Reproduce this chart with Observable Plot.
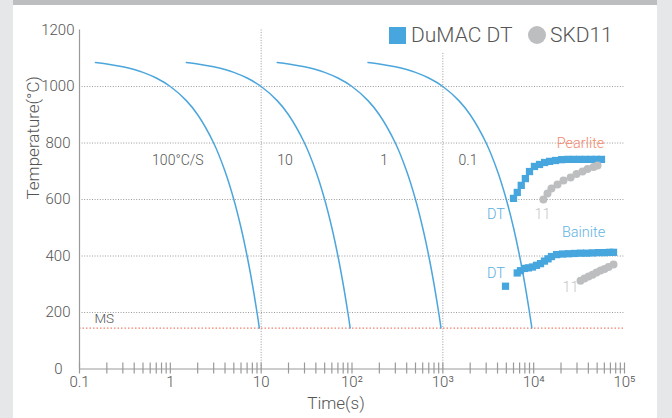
<!DOCTYPE html>
<html>
<head>
<meta charset="utf-8">
<script src="https://cdn.jsdelivr.net/npm/d3@7"></script>
<script src="https://cdn.jsdelivr.net/npm/@observablehq/plot@0.6"></script>
<style>
  html, body { margin: 0; padding: 0; background: #e6e7e8; }
  #wrap { position: relative; width: 672px; height: 418px; overflow: hidden; font-family: Roboto, "Liberation Sans", sans-serif; font-weight: 300; }
  #panel { position: absolute; left: 13px; top: 0; width: 644px; height: 418px; background: #fff; }
  #topbar { position: absolute; left: 13px; top: 0; width: 644px; height: 5px; background: #bcbec0; }
  #chart { position: absolute; left: 0; top: 0; }
  #legend { position: absolute; left: 381px; top: 22px; width: 242px; height: 30px; background: #fff; }
</style>
</head>
<body>
<div id="wrap">
  <div id="panel"></div>
  <div id="topbar"></div>
  <div id="chart"></div>
  <div id="legend"></div>
</div>
<script>
// ---------- data ----------
const yTicksWide = [1000, 1200];
const yTicksMid = [200, 400, 600, 800];
const yTicksZero = [0];
const yGrid = [200, 400, 600, 800, 1000];
const xGrid = [10, 1000];
const xTickValues = [0.1, 1, 10, 100, 1000, 10000, 100000];
const xTickLabels = ["0.1", "1", "10", "10²", "10³", "10⁴", "10⁵"];
const msTemp = 145;

// cooling curves (temperature)
const coolTemps = [1085, 1080, 1070, 1060, 1050, 1030, 1000, 950, 900, 800, 700, 600, 500, 400, 300, 200, 145];
const coolTime100 = [0.15, 0.2, 0.3, 0.4, 0.5, 0.7, 1, 1.5, 2, 3, 4, 5, 6, 7, 8, 9, 9.55];
const coolTime10 = [1.5, 2, 3, 4, 5, 7, 10, 15, 20, 30, 40, 50, 60, 70, 80, 90, 95.5];
const coolTime1 = [15, 20, 30, 40, 50, 70, 100, 150, 200, 300, 400, 500, 600, 700, 800, 900, 955];
const coolTime01 = [150, 200, 300, 400, 500, 700, 1000, 1500, 2000, 3000, 4000, 5000, 6000, 7000, 8000, 9000, 9550];
const rateNames = ["100°C/S", "10", "1", "0.1"];
const rateLabelTime = [0.63, 15, 205, 1490];
const rateLabelTemp = 738;

// DuMAC DT (squares) and SKD11 (circles)
const pearliteDT_t = [6000, 6600, 7300, 8100, 9000, 10200, 11600, 13200, 15000, 17400, 20300, 23600, 27500, 32000, 37000, 43000, 49000, 55800];
const pearliteDT_T = [604, 625, 650, 674, 699, 717, 724, 731, 735, 738, 741, 742, 742, 742, 742, 742, 742, 742];
const pearliteSKD_t = [12800, 14200, 15700, 18300, 21300, 25500, 29600, 34500, 39200, 45600, 50500];
const pearliteSKD_T = [600, 621, 639, 653, 667, 678, 690, 699, 708, 715, 720];
const bainiteDT_t = [4900, 6590, 7160, 7930, 8770, 9710, 10740, 11900, 13150, 14400, 15700, 17900, 20800, 24200, 28200, 32800, 38200, 44500, 51800, 60300, 68400, 75700];
const bainiteDT_T = [293, 340, 348, 356, 358, 361, 367, 373, 382, 390, 398, 405, 407, 408, 409, 410, 410, 411, 412, 412, 413, 413];
const bainiteSKD_t = [32800, 36300, 40200, 44500, 49200, 54500, 60300, 66700, 75700];
const bainiteSKD_T = [312, 320, 327, 334, 342, 349, 354, 361, 370];

// annotations
const annoText = ["Pearlite", "Bainite", "DT", "DT", "11", "11"];
const annoTime = [32800, 35400, 3850, 3840, 12500, 25500];
const annoTemp = [798, 484, 549, 337, 549, 290];
const annoColor = ["#f3876b", "#62b4e2", "#5aafe0", "#5aafe0", "#c4c4c6", "#c4c4c6"];
const msLabel = "MS", msLabelTime = 0.146, msLabelTemp = 179;

const legendNames = ["DuMAC DT", "SKD11"];
const colors = { dt: "#46a6dd", skd: "#bdbec0", curve: "#4ca6dc", ms: "#f2806a" };

// ---------- tables ----------
const curves = [];
[coolTime100, coolTime10, coolTime1, coolTime01].forEach((ts, k) =>
  ts.forEach((t, i) => curves.push({ t, T: coolTemps[i], rate: rateNames[k] })));
const toRows = (ts, Ts) => ts.map((t, i) => ({ t, T: Ts[i] }));
const dtRows = toRows(pearliteDT_t, pearliteDT_T).concat(toRows(bainiteDT_t, bainiteDT_T));
const skdRows = toRows(pearliteSKD_t, pearliteSKD_T).concat(toRows(bainiteSKD_t, bainiteSKD_T));
const rateRows = rateNames.map((n, i) => ({ n, t: rateLabelTime[i], T: rateLabelTemp }));
const annoRows = annoText.map((n, i) => ({ n, t: annoTime[i], T: annoTemp[i], c: annoColor[i] }));
const minorTicks = d3.scaleLog().domain([0.1, 1e5]).ticks();

const FONT = "Roboto, 'Liberation Sans', sans-serif";
const yAxisOpts = { tickSize: 0, label: null, fontSize: 15, fill: "#555", tickFormat: d => String(d) };
const plot = Plot.plot({
  width: 672, height: 418,
  marginLeft: 79, marginRight: 48, marginTop: 29.5, marginBottom: 49.5,
  style: { background: "transparent", fontFamily: FONT, fontSize: "15px", color: "#555", fontWeight: 300 },
  x: { type: "log", domain: [0.1, 1e5] },
  y: { domain: [0, 1200] },
  marks: [
    Plot.ruleY(yGrid, { stroke: "#8e8e8e", strokeDasharray: "1,1.6", strokeWidth: 0.9 }),
    Plot.ruleX(xGrid, { stroke: "#8e8e8e", strokeDasharray: "1,1.6", strokeWidth: 0.9 }),
    Plot.ruleY([msTemp], { stroke: colors.ms, strokeDasharray: "1.5,2", strokeWidth: 1.3 }),
    Plot.axisY({ ...yAxisOpts, ticks: yTicksWide, tickPadding: 5 }),
    Plot.axisY({ ...yAxisOpts, ticks: yTicksMid, tickPadding: 9 }),
    Plot.axisY({ ...yAxisOpts, ticks: yTicksZero, tickPadding: 17 }),
    Plot.axisX({ ticks: minorTicks, tickSize: 11, tickFormat: () => "", dy: -6, label: null, stroke: "#9a9a9a", strokeWidth: 1.2 }),
    Plot.axisX({ ticks: xTickValues, tickSize: 0, tickPadding: 7, label: null, fontSize: 15, fill: "#555",
      tickFormat: d => xTickLabels[xTickValues.indexOf(d)] }),
    Plot.ruleX([0.1], { stroke: "#9a9a9a", strokeWidth: 1.2 }),
    Plot.ruleY([0], { stroke: "#9a9a9a", strokeWidth: 1.2 }),
    Plot.line(curves, { x: "t", y: "T", z: "rate", stroke: colors.curve, strokeWidth: 1.5, curve: "catmull-rom" }),
    Plot.dot(dtRows, { x: "t", y: "T", symbol: "square", r: 4.1, fill: colors.dt }),
    Plot.dot(skdRows, { x: "t", y: "T", symbol: "circle", r: 4, fill: colors.skd }),
    Plot.text(rateRows, { x: "t", y: "T", text: "n", textAnchor: "start", fontSize: 14, fill: "#555" }),
    Plot.text(annoRows, { x: "t", y: "T", text: "n", fill: "c", fontSize: 14.5 }),
    Plot.text([msLabel], { x: msLabelTime, y: msLabelTemp, text: d => d, textAnchor: "start", fontSize: 13.5, fill: "#555" }),
    Plot.text(["Time(s)"], { frameAnchor: "bottom", dy: 40, dx: -16, fontSize: 17, fill: "#555" }),
    Plot.text(["Temperature(°C)"], { frameAnchor: "left", rotate: -90, dx: -46, fontSize: 17, fill: "#555" })
  ]
});
document.getElementById("chart").appendChild(plot);

// ---------- legend ----------
const wrap = document.getElementById("wrap");
function add(html, style) {
  const el = document.createElement("div");
  el.innerHTML = html; Object.assign(el.style, style); wrap.appendChild(el); return el;
}
add("", { position: "absolute", left: "389px", top: "27px", width: "17px", height: "17px", background: colors.dt });
add(legendNames[0], { position: "absolute", left: "411px", top: "25px", fontSize: "21px", color: "#555", lineHeight: "21px", whiteSpace: "nowrap" });
add("", { position: "absolute", left: "527.5px", top: "26px", width: "18px", height: "18px", borderRadius: "50%", background: colors.skd });
add(legendNames[1], { position: "absolute", left: "550px", top: "25px", fontSize: "21px", color: "#555", lineHeight: "21px", whiteSpace: "nowrap" });
</script>
</body>
</html>
